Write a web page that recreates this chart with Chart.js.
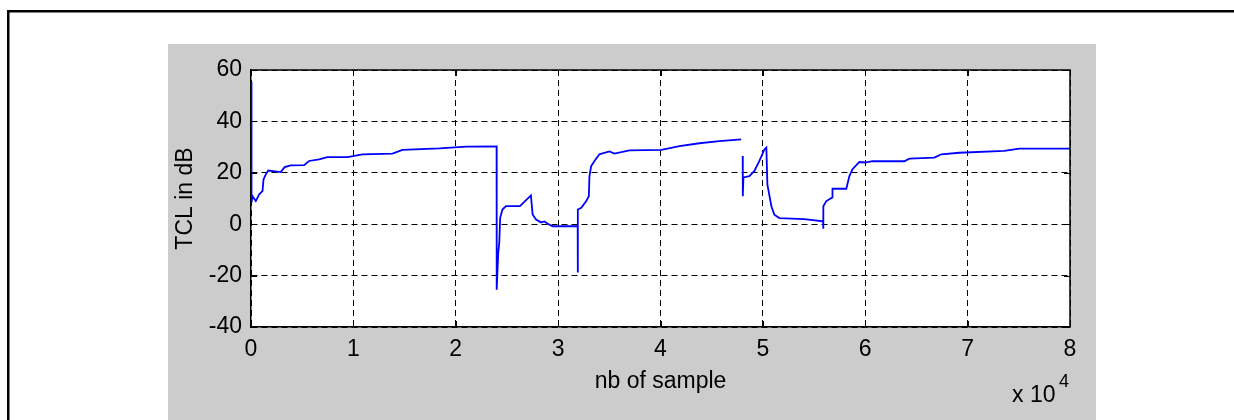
<!DOCTYPE html>
<html>
<head>
<meta charset="utf-8">
<title>TCL in dB</title>
<script src="https://cdn.jsdelivr.net/npm/chart.js@4.4.0/dist/chart.umd.min.js"></script>
<style>
  body { margin: 0; background: #fff; }
  canvas { display: block; }
</style>
</head>
<body>
<canvas id="tcl" width="1234" height="420"></canvas>
<script>
// values; null = break in the trace
const sampleIdx = [0, 50, 146, 470, 801, 1123, 1221, 1445, 1680, 2900, 3290, 3876, 5186, 5674, 6650, 7461, 9414,
  10889, 13818, 14795, 18408, 21045, 23990, 24000, 24150, 24250, 24340, 24560, 24900, 26270, 27340, 27510,
  27840, 28330, 28650, 29150, 29470, 31910, 31920, 31930, 32260, 32750, 33000, 33060, 33230, 33550, 34030,
  34520, 35010, 35500, 36960, 40090, 41850, 43800, 45750, 47880, 47950, 48030, 48040, 48100, 48680, 49170,
  49660, 50150, 50340, 50440, 50830, 51120, 51610, 54050, 55880, 55900, 55910, 56200, 56790, 56800, 58150,
  58450, 58740, 59420, 60010, 60690, 63820, 64310, 66750, 67430, 69190, 73580, 75050, 80000];
const tclDb = [55.3, 8.4, 10.9, 9, 11.6, 12.9, 17.4, 19.4, 20.9, 20.3, 22.2, 22.9, 23, 24.6, 25.2, 26.1, 26.1,
  27.2, 27.5, 28.9, 29.5, 30.2, 30.3, -25.5, -11.2, -7.3, 2.5, 5.7, 7, 7, 11.2, 3.75,
  1.8, 0.7, 1.1, -0.2, -0.8, -0.8, -18.8, 5.7, 6.4, 9, 10.9, 18.7, 22.6, 24.6, 27.2,
  27.8, 28.3, 27.5, 28.7, 28.9, 30.4, 31.5, 32.3, 33, null, 26.5, 10.9, 18.2, 18.7, 20.7,
  24.6, 29.1, 29.8, 15.5, 7, 3.7, 2.4, 2.0, 1.1, -1.8, 7, 9, 10.4, 13.8, 13.8,
  18.7, 21.3, 24.2, 24, 24.5, 24.5, 25.5, 25.9, 27.2, 27.8, 28.5, 29.4, 29.4];
const xRange = [0, 80000];
const xStep = 10000;
const yRange = [-40, 60];
const yStep = 20;

const fam = '"Liberation Sans", Arial, sans-serif';
const points = sampleIdx.map((x, i) => ({x: x, y: tclDb[i]}));

const matlabFrame = {
  id: 'matlabFrame',
  beforeDraw(chart) {
    const {ctx, chartArea: a} = chart;
    ctx.save();
    ctx.fillStyle = '#fff';
    ctx.fillRect(0, 0, chart.width, chart.height);
    ctx.fillStyle = '#000';
    ctx.fillRect(7, 10, chart.width, 2.5);
    ctx.fillRect(7, 10, 2.5, chart.height);
    ctx.fillStyle = '#cccccc';
    ctx.fillRect(168, 44, 928, chart.height);
    ctx.fillStyle = '#fff';
    ctx.fillRect(a.left, a.top, a.right - a.left, a.bottom - a.top);
    ctx.restore();
  },
  afterDraw(chart) {
    const {ctx, chartArea: a, scales} = chart;
    ctx.save();
    ctx.strokeStyle = '#000';
    ctx.lineWidth = 1.5;
    ctx.beginPath();
    ctx.moveTo(a.left, a.top);
    ctx.lineTo(a.right, a.top);
    ctx.lineTo(a.right, a.bottom);
    ctx.stroke();
    // inward tick marks, matlab style
    ctx.lineWidth = 1;
    ctx.beginPath();
    scales.x.ticks.forEach(t => {
      const px = Math.round(scales.x.getPixelForValue(t.value)) + 0.5;
      ctx.moveTo(px, a.top); ctx.lineTo(px, a.top + 6);
      ctx.moveTo(px, a.bottom); ctx.lineTo(px, a.bottom - 6);
    });
    scales.y.ticks.forEach(t => {
      const py = Math.round(scales.y.getPixelForValue(t.value)) + 0.5;
      ctx.moveTo(a.left, py); ctx.lineTo(a.left + 6, py);
      ctx.moveTo(a.right, py); ctx.lineTo(a.right - 6, py);
    });
    ctx.stroke();
    // exponent of the x axis
    ctx.fillStyle = '#000';
    ctx.textBaseline = 'alphabetic';
    ctx.font = '23px ' + fam;
    ctx.fillText('x 10', 1012, 402);
    ctx.font = '18px ' + fam;
    ctx.fillText('4', 1059, 387);
    ctx.restore();
  }
};

new Chart(document.getElementById('tcl'), {
  type: 'line',
  data: {
    datasets: [{
      data: points,
      borderColor: 'rgb(0,0,255)',
      borderWidth: 1.8,
      pointRadius: 0,
      tension: 0,
      spanGaps: false
    }]
  },
  options: {
    responsive: false,
    animation: false,
    layout: {padding: {left: 168, right: 164, top: 70, bottom: 0}},
    plugins: {legend: {display: false}, tooltip: {enabled: false}},
    scales: {
      x: {
        type: 'linear',
        min: xRange[0],
        max: xRange[1],
        afterFit: s => { s.height = 93; },
        ticks: {
          stepSize: xStep,
          padding: 9,
          color: '#000',
          font: {family: fam, size: 23},
          maxRotation: 0,
          callback: v => v / xStep
        },
        grid: {color: '#000', lineWidth: 1, drawTicks: false},
        border: {display: true, color: '#000', width: 1.5, dash: [6, 4]},
        title: {display: true, text: 'nb of sample', color: '#000',
                font: {family: fam, size: 23}, padding: {top: 0, bottom: 25}}
      },
      y: {
        min: yRange[0],
        max: yRange[1],
        afterFit: s => { s.width = 83; },
        ticks: {
          stepSize: yStep,
          padding: 9,
          color: '#000',
          font: {family: fam, size: 23}
        },
        grid: {color: '#000', lineWidth: 1, drawTicks: false},
        border: {display: true, color: '#000', width: 1.5, dash: [6, 4]},
        title: {display: true, text: 'TCL in dB', color: '#000',
                font: {family: fam, size: 23}, padding: {top: 4, bottom: 0}}
      }
    }
  },
  plugins: [matlabFrame]
});
</script>
</body>
</html>
